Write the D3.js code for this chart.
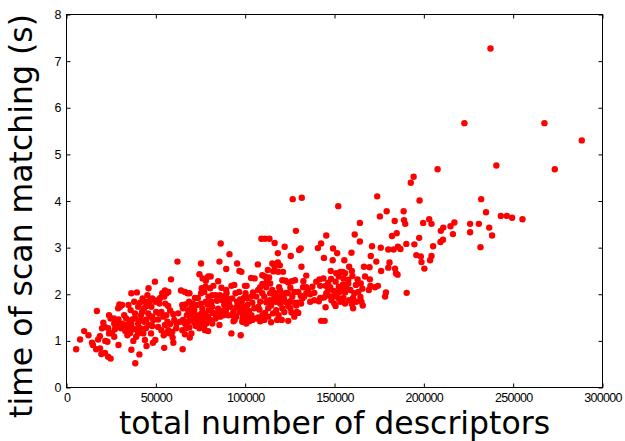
<!DOCTYPE html>
<html>
<head>
<meta charset="utf-8">
<script src="https://cdn.jsdelivr.net/npm/d3@7"></script>
<style>
  body { margin: 0; background: #fff; }
  .tick text { font-family: "Liberation Sans", Arial, sans-serif; font-size: 12.5px; fill: #000; }
  .label { font-family: "DejaVu Sans", sans-serif; fill: #000; }
</style>
</head>
<body>
<div id="chart"></div>
<script>
// tick values of both axes
var xTicks = [0, 50000, 100000, 150000, 200000, 250000, 300000];
var yTicks = [0, 1, 2, 3, 4, 5, 6, 7, 8];

// [total number of descriptors, time of scan matching (s)]
var scans = [
  [237300,7.27],[222700,5.67],[267500,5.67],[288400,5.30],[240600,4.76],[273300,4.68],[207700,4.68],[194300,4.52],
  [192700,4.39],[173900,4.10],[197600,4.01],[232100,4.04],[126600,4.04],[131700,4.07],[152100,3.89],[234800,3.76],
  [243100,3.68],[246500,3.68],[249400,3.64],[255200,3.61],[179200,3.78],[188700,3.78],[175400,3.67],[217100,3.54],
  [225900,3.51],[230800,3.51],[214900,3.46],[210900,3.43],[199600,3.53],[203000,3.61],[204300,3.51],[189600,3.51],
  [188900,3.59],[183700,3.57],[164200,3.53],[236600,3.43],[238200,3.26],[225900,3.33],[216300,3.29],[209500,3.36],
  [210700,3.17],[209300,3.12],[184800,3.31],[182200,3.25],[161300,3.28],[164200,3.13],[197400,3.21],[190200,3.08],
  [194700,3.07],[205200,3.03],[231700,3.01],[185500,3.02],[186900,2.97],[171000,3.03],[175900,3.00],[180100,2.96],
  [183100,2.96],[195800,2.84],[198300,2.81],[204300,2.82],[203500,2.73],[198700,2.69],[200300,2.55],[180800,2.68],
  [180100,2.57],[183900,2.55],[184400,2.45],[185300,2.42],[176100,2.50],[173400,2.70],[170300,2.82],[166500,2.59],
  [169600,2.58],[167100,2.38],[169800,2.32],[174300,2.18],[172700,2.15],[170100,2.18],[169200,2.09],[178800,2.04],
  [178300,1.95],[190400,2.03],[159500,2.89],[155500,2.73],[151500,2.88],[149200,2.98],[145400,3.26],[142500,3.09],
  [140700,2.99],[144100,2.78],[149000,2.73],[158200,2.59],[159700,2.50],[153300,2.48],[154600,2.48],[147900,2.50],
  [152400,2.38],[148100,2.33],[157700,2.31],[160000,2.39],[162900,2.32],[157700,2.23],[154800,2.21],[150600,2.27],
  [152400,2.16],[146500,2.25],[143800,2.34],[141600,2.32],[142000,2.18],[145000,2.18],[147600,2.15],[149700,2.07],
  [153900,2.10],[155900,2.04],[162000,2.20],[164700,2.23],[165600,2.12],[163300,2.05],[160400,1.92],[164500,1.94],
  [165100,1.84],[165800,1.76],[158200,1.87],[159700,1.79],[160400,1.70],[155000,1.92],[152100,1.92],[148800,1.95],
  [146500,1.97],[144100,1.93],[142000,1.92],[141200,1.85],[149900,1.80],[150600,1.75],[145000,1.72],[142500,1.43],
  [144500,1.43],[138700,2.03],[136400,2.00],[135300,2.07],[132400,2.15],[134200,2.15],[133100,1.95],[131100,1.97],
  [129500,1.82],[127500,1.82],[128600,1.76],[128800,1.62],[129700,1.60],[125900,1.61],[124100,1.43],[121900,1.62],
  [124100,1.75],[125300,1.85],[122800,2.03],[123900,2.02],[121700,1.91],[119600,1.92],[120800,2.00],[119600,2.08],
  [119000,2.15],[120800,2.30],[121200,2.48],[119400,2.62],[118300,2.68],[118300,2.88],[122100,3.02],[125500,2.82],
  [131100,2.98],[130200,2.95],[131500,2.59],[134200,2.40],[132600,2.28],[127900,2.30],[126100,2.28],[125300,2.14],
  [128400,3.36],[116500,3.10],[113600,3.19],[111100,3.19],[109100,3.19],[115200,2.66],[116500,2.59],[118500,2.48],
  [115800,2.49],[112700,2.52],[113400,2.36],[112200,2.31],[111600,2.23],[109600,2.22],[111800,2.15],[114000,2.23],
  [115200,2.09],[117000,2.02],[118100,1.95],[116700,1.85],[113800,1.87],[111800,1.83],[114500,1.76],[112900,1.70],
  [117400,1.66],[115600,1.59],[117900,1.45],[114500,1.40],[110700,1.45],[108400,1.42],[107300,1.50],[109600,1.55],
  [111100,1.60],[108000,1.67],[108400,1.84],[106200,1.95],[104400,2.04],[107300,2.09],[108400,2.15],[107100,2.64],
  [105300,2.34],[103300,2.35],[100800,2.18],[100200,2.02],[103300,1.95],[101300,1.91],[104000,1.82],[101300,1.77],
  [99500,1.73],[102200,1.64],[101500,1.54],[101500,1.46],[100600,1.37],[102200,1.42],[98600,1.48],[98100,1.84],
  [97200,1.89],[99300,1.92],[96100,1.77],[95500,1.84],[95000,1.72],[93400,1.62],[92800,1.55],[94100,1.45],
  [93500,1.42],[92300,1.16],[97500,1.12],[96800,1.62],[98800,1.55],[97900,2.48],[96800,2.50],[95500,2.66],
  [99900,2.18],[93900,2.20],[92300,2.18],[91200,2.86],[89400,2.54],[86700,2.14],[88300,1.96],[89600,2.02],
  [90300,1.90],[91000,1.80],[88300,1.77],[89200,1.66],[87800,1.55],[86000,1.52],[85600,1.34],[86500,1.64],
  [84900,1.69],[84200,1.86],[85800,1.98],[83400,1.98],[86300,3.09],[85600,2.70],[84900,2.28],[82200,2.18],
  [80400,2.13],[81600,1.98],[79500,1.95],[81100,1.84],[78900,1.78],[81600,1.73],[79500,1.65],[82000,1.60],
  [79300,1.52],[80400,1.45],[79300,1.21],[77500,1.58],[77100,1.48],[76200,1.40],[76900,1.30],[74400,1.27],
  [73700,1.37],[72400,1.32],[71900,1.45],[73900,1.52],[75300,1.58],[76000,1.69],[78000,1.84],[75300,1.80],
  [73100,1.77],[71500,1.66],[69900,1.59],[70800,1.53],[69200,1.48],[68100,1.41],[68800,1.29],[69000,1.07],
  [67000,1.27],[66300,1.37],[65200,1.45],[67400,1.55],[65200,1.70],[66500,1.78],[68600,1.84],[70800,1.80],
  [71900,1.92],[73500,1.92],[75300,2.02],[77100,2.05],[77800,2.16],[75700,2.13],[76200,2.34],[78000,2.29],
  [79300,2.38],[80700,2.38],[74400,2.43],[75300,2.66],[67700,2.02],[68800,2.02],[66300,2.05],[64100,2.08],
  [62100,2.70],[58500,2.32],[62500,1.59],[63600,1.41],[61600,1.37],[60300,1.45],[61400,1.27],[59200,1.19],
  [59400,1.07],[59800,0.96],[65000,0.82],[58000,1.16],[56900,1.23],[55300,1.16],[55100,1.34],[56500,1.41],
  [58000,1.36],[59800,1.57],[58000,1.65],[56900,1.75],[55300,1.80],[53600,2.02],[55100,2.08],[56000,2.02],
  [57000,2.05],[54700,1.95],[52400,1.92],[50900,1.87],[52000,1.80],[50200,1.62],[51800,1.59],[48600,1.45],
  [48000,1.32],[51300,1.30],[53100,1.23],[54400,1.12],[54700,0.85],[49700,1.02],[48400,0.96],[43900,1.02],
  [44800,0.89],[49500,2.27],[45900,2.13],[45300,1.98],[43900,1.84],[46400,1.77],[47500,1.73],[44800,1.75],
  [43500,1.70],[42300,1.62],[45700,1.59],[46800,1.53],[44800,1.46],[43500,1.41],[41700,1.45],[40100,1.37],
  [41200,1.27],[43000,1.16],[40100,1.16],[39000,1.25],[39000,1.09],[40800,0.71],[38500,0.52],[36300,0.81],
  [37400,1.00],[39400,2.04],[36300,2.02],[41200,1.82],[40100,1.73],[41700,1.55],[38300,1.59],[36700,1.46],
  [38500,1.48],[35400,1.41],[36300,1.36],[34700,1.29],[37400,1.25],[35600,1.17],[34100,1.12],[32900,1.21],
  [32700,1.34],[31100,1.37],[30500,1.27],[29100,0.91],[34700,1.77],[30000,1.73],[29600,1.78],[31100,1.77],
  [28900,1.70],[29100,1.46],[27800,1.41],[28500,1.34],[26700,1.37],[27100,1.25],[25500,1.17],[26700,1.09],
  [23800,1.16],[23300,1.27],[21500,1.30],[24700,1.48],[23800,1.55],[22900,0.98],[21700,1.00],[24700,0.62],
  [23300,0.66],[21500,0.74],[19500,0.72],[18800,0.84],[16600,0.82],[17700,1.03],[17000,1.64],[14800,0.91],
  [14300,0.96],[12300,1.12],[9900,1.21],[7600,1.03],[5400,0.82],[19900,1.27],[20600,1.39],[18700,1.10],
  [26500,1.48],[27400,1.34],[32300,1.55],[33400,1.48],[35900,1.66],[37900,1.84],[42600,1.91],[46800,1.87],
  [48000,1.91],[49700,1.84],[53100,1.62],[54200,1.52],[55800,1.55],[51300,1.46],[46200,1.34],[48000,1.52],
  [44400,1.27],[47300,1.16],[64800,1.23],[66300,1.14],[69900,1.16],[71500,1.39],[73300,1.45],[74800,1.41],
  [68100,1.66],[69900,1.73],[64800,1.77],[72600,1.55],[78200,1.37],[77500,1.23],[81600,1.37],[83400,1.48],
  [83800,1.59],[88300,1.87],[91600,1.73],[92800,1.91],[94600,2.02],[96600,2.05],[90500,1.55],[95000,1.52],
  [97200,1.70],[99900,1.62],[98400,1.41],[103500,1.55],[105100,1.70],[106200,1.48],[104000,1.45],[89400,2.09],
  [87200,1.87],[119600,1.80],[120800,1.70],[122300,1.84],[117400,1.84],[116300,1.93],[114000,2.02],[109600,2.02],
  [110700,1.95],[107300,1.73],[112900,1.52],[120500,1.45],[118700,1.55],[126400,1.95],[127500,2.05],[129700,2.05],
  [132000,1.91],[134200,2.02],[136400,1.84],[138700,1.87],[131300,1.80],[125300,1.70],[127500,1.52],[137600,2.16],
  [139800,2.27],[146500,2.09],[145400,2.02],[151000,1.98],[152800,2.05],[156600,2.14],[158900,2.09],[161100,2.02],
  [155000,2.34],[155900,2.45],[151000,2.45],[148300,1.87],[153300,1.84],[155900,1.80],[162200,1.84],[122600,2.29],
  [124100,2.25],[109600,2.41],[111100,2.38]
];

var width = 625, height = 441;
var margin = {top: 14.5, right: 22.5, bottom: 53.5, left: 66.5};
var w = width - margin.left - margin.right,
    h = height - margin.top - margin.bottom;

var svg = d3.select('#chart').append('svg')
            .attr('width', width)
            .attr('height', height);

var g = svg.append('g')
           .attr('transform', 'translate(' + margin.left + ',' + margin.top + ')');

var x = d3.scaleLinear().domain([0, 300000]).range([0, w]);
var y = d3.scaleLinear().domain([0, 8]).range([h, 0]);

// points
g.append('g')
 .selectAll('circle')
 .data(scans)
 .enter().append('circle')
 .attr('cx', function(d) { return x(d[0]); })
 .attr('cy', function(d) { return y(d[1]); })
 .attr('r', 3.2)
 .attr('fill', '#ff0000');

// axes, ticks pointing inwards on all four sides
var fmt = d3.format('d');

g.append('g')
 .attr('transform', 'translate(0,' + h + ')')
 .call(d3.axisBottom(x).tickValues(xTicks).tickFormat(fmt)
         .tickSizeInner(-4).tickSizeOuter(0).tickPadding(6))
 .call(function(s) { s.select('.domain').remove(); s.selectAll('text').attr('letter-spacing', '-0.7'); });

g.append('g')
 .call(d3.axisTop(x).tickValues(xTicks).tickFormat('')
         .tickSizeInner(-4).tickSizeOuter(0))
 .call(function(s) { s.select('.domain').remove(); });

g.append('g')
 .call(d3.axisLeft(y).tickValues(yTicks).tickFormat(fmt)
         .tickSizeInner(-4).tickSizeOuter(0).tickPadding(5))
 .call(function(s) { s.select('.domain').remove(); });

g.append('g')
 .attr('transform', 'translate(' + w + ',0)')
 .call(d3.axisRight(y).tickValues(yTicks).tickFormat('')
         .tickSizeInner(-4).tickSizeOuter(0))
 .call(function(s) { s.select('.domain').remove(); });

// frame
g.append('rect')
 .attr('width', w)
 .attr('height', h)
 .attr('fill', 'none')
 .attr('stroke', '#000')
 .attr('stroke-width', 1);

// axis labels
svg.append('text')
   .attr('class', 'label')
   .attr('x', margin.left + w / 2)
   .attr('y', 434)
   .attr('text-anchor', 'middle')
   .style('font-size', '31.5px')
   .text('total number of descriptors');

svg.append('text')
   .attr('class', 'label')
   .attr('transform', 'translate(32,' + 216 + ') rotate(-90)')
   .attr('text-anchor', 'middle')
   .style('font-size', '31.5px')
   .text('time of scan matching (s)');
</script>
</body>
</html>
